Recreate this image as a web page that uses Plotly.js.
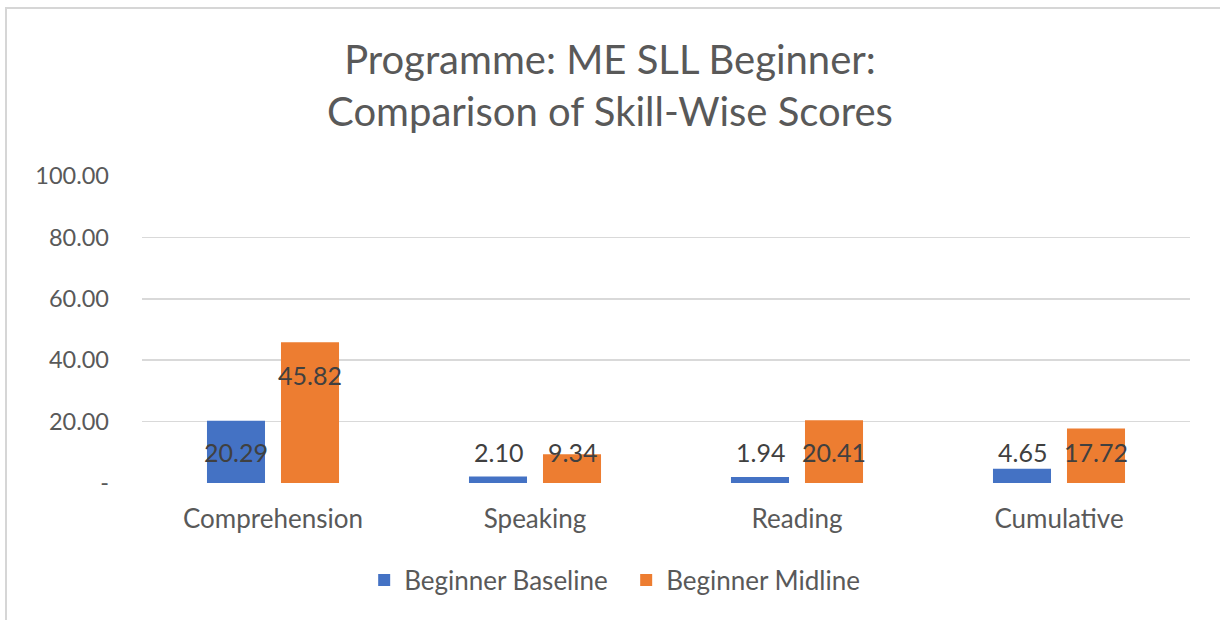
<!DOCTYPE html>
<html>
<head>
<meta charset="utf-8">
<script src="https://cdn.plot.ly/plotly-3.0.1.min.js"></script>
<style>
html,body{margin:0;padding:0;background:#fff;overflow:hidden;}
#chart{width:1220px;height:620px;}
#frame{position:absolute;left:5px;top:7px;width:1300px;height:700px;border:2px solid #d6d6d6;pointer-events:none;}
</style>
</head>
<body>
<div id="chart"></div>
<div id="frame"></div>
<script>
const categories = ["Comprehension", "Speaking", "Reading", "Cumulative"];
const baseline = [20.29, 2.10, 1.94, 4.65];
const midline = [45.82, 9.34, 20.41, 17.72];
const seriesNames = ["Beginner Baseline", "Beginner Midline"];
const tickVals = [0, 20, 40, 60, 80, 100];
const tickText = ["-", "20.00", "40.00", "60.00", "80.00", "100.00"];

// label placement (data units) mimicking the original
const baseLabelY = [10.1, 10.1, 10.1, 10.1];
const midLabelY = [35.2, 10.1, 10.1, 10.1];

const font = "Lato, 'Open Sans', sans-serif";
const colors = ["#4472C4", "#ED7D31"];

const traces = [
  {type: "bar", name: seriesNames[0], x: categories, y: baseline, marker: {color: colors[0]}, hoverinfo: "y"},
  {type: "bar", name: seriesNames[1], x: categories, y: midline, marker: {color: colors[1]}, hoverinfo: "y"}
];

const annotations = [];
categories.forEach((c, i) => {
  annotations.push({x: c, y: baseLabelY[i], xref: "x", yref: "y", text: baseline[i].toFixed(2), showarrow: false, xshift: -37, font: {family: font, size: 25, color: "#404040"}});
  annotations.push({x: c, y: midLabelY[i], xref: "x", yref: "y", text: midline[i].toFixed(2), showarrow: false, xshift: 37, font: {family: font, size: 25, color: "#404040"}});
});

const layout = {
  width: 1220, height: 620,
  margin: {l: 142, r: 30, t: 176, b: 137},
  paper_bgcolor: "#ffffff", plot_bgcolor: "#ffffff",
  font: {family: font, color: "#595959"},
  title: {text: "Programme: ME SLL Beginner:<br>Comparison of Skill-Wise Scores", x: 0.5, xanchor: "center", xref: "container", y: 0.88, yanchor: "middle", yref: "container", font: {family: font, size: 40, color: "#595959"}},
  barmode: "group",
  bargap: 0.435,
  bargroupgap: 0.216,
  xaxis: {type: "category", showgrid: false, showline: false, zeroline: false, ticks: "", tickfont: {family: font, size: 26, color: "#595959"}, ticklabelstandoff: 18},
  yaxis: {range: [0, 100], tickvals: tickVals, ticktext: tickText, showgrid: true, gridcolor: "#d9d9d9", gridwidth: 1.5, zeroline: false, showline: false, ticks: "", tickfont: {family: font, size: 23.5, color: "#595959"}, ticklabelstandoff: 32, fixedrange: true},
  showlegend: true,
  legend: {orientation: "h", x: 0.462, xanchor: "center", y: -0.316, yanchor: "middle", font: {family: font, size: 26, color: "#595959"}, itemwidth: 30, entrywidth: 217, entrywidthmode: "pixels", traceorder: "normal"},
  annotations: annotations
};

Plotly.newPlot("chart", traces, layout, {displayModeBar: false, staticPlot: true});
</script>
</body>
</html>
